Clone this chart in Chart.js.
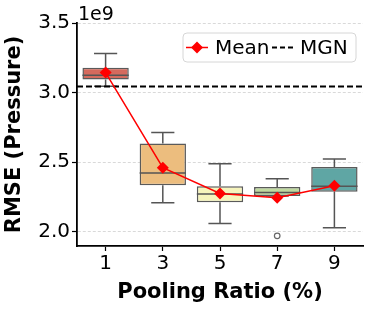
<!DOCTYPE html>
<html>
<head>
<meta charset="utf-8">
<script src="https://cdn.jsdelivr.net/npm/chart.js@4/dist/chart.umd.min.js"></script>
<style>
  html, body { margin: 0; padding: 0; background: #ffffff; }
  #wrap { width: 373px; height: 310px; position: relative; }
</style>
</head>
<body>
<div id="wrap"><canvas id="c" width="373" height="310"></canvas></div>
<script>
// ---- data (RMSE in units of 1e9) ----
const categories = ['1', '3', '5', '7', '9'];
const whiskerLow  = [3.045, 2.208, 2.059, 2.256, 2.028];
const q1          = [3.094, 2.333, 2.212, 2.256, 2.287];
const median      = [3.125, 2.421, 2.270, 2.282, 2.326];
const q3          = [3.178, 2.633, 2.326, 2.321, 2.465];
const whiskerHigh = [3.281, 2.712, 2.489, 2.380, 2.522];
const means       = [3.144, 2.460, 2.275, 2.244, 2.330];
const outlierCat  = [3];
const outlierVal  = [1.970];
const mgnValue    = 3.043;
const yTicks      = [2.0, 2.5, 3.0, 3.5];

const boxColors = ['#d56a5d', '#ecbd7e', '#f6f4bc', '#bfd99e', '#5fa6a4'];
const FONT = "'DejaVu Sans', sans-serif";

const boxPlugin = {
  id: 'boxParts',
  beforeDatasetsDraw(chart) {
    const {ctx, scales: {x, y}} = chart;
    const meta = chart.getDatasetMeta(1);
    ctx.save();
    ctx.strokeStyle = '#555555';
    ctx.lineWidth = 1.5;
    categories.forEach((c, i) => {
      const bar = meta.data[i];
      const half = bar ? bar.width / 4 : 12;
      const px = x.getPixelForValue(i);
      ctx.beginPath();
      ctx.moveTo(px, y.getPixelForValue(q1[i]));
      ctx.lineTo(px, y.getPixelForValue(whiskerLow[i]));
      ctx.moveTo(px, y.getPixelForValue(q3[i]));
      ctx.lineTo(px, y.getPixelForValue(whiskerHigh[i]));
      ctx.moveTo(px - half, y.getPixelForValue(whiskerLow[i]));
      ctx.lineTo(px + half, y.getPixelForValue(whiskerLow[i]));
      ctx.moveTo(px - half, y.getPixelForValue(whiskerHigh[i]));
      ctx.lineTo(px + half, y.getPixelForValue(whiskerHigh[i]));
      ctx.stroke();
    });
    ctx.restore();
  },
  afterDatasetDraw(chart, args) {
    if (args.index !== 1) return;
    const {ctx, scales: {x, y}} = chart;
    const meta = chart.getDatasetMeta(1);
    ctx.save();
    ctx.strokeStyle = '#555555';
    ctx.lineWidth = 1.5;
    categories.forEach((c, i) => {
      const bar = meta.data[i];
      const half = bar.width / 2;
      const px = x.getPixelForValue(i);
      const py = y.getPixelForValue(median[i]);
      ctx.beginPath();
      ctx.moveTo(px - half, py);
      ctx.lineTo(px + half, py);
      ctx.stroke();
    });
    ctx.restore();
  },
  afterDraw(chart) {
    const {ctx, chartArea} = chart;
    ctx.save();
    // offset text
    ctx.fillStyle = '#000';
    ctx.font = '19px ' + FONT;
    ctx.textAlign = 'left';
    ctx.textBaseline = 'alphabetic';
    ctx.fillText('1e9', chartArea.left + 1, 20);
    // legend
    const lx = 183, ly = 33, lw = 173, lh = 29;
    ctx.beginPath();
    ctx.roundRect(lx, ly, lw, lh, 4);
    ctx.fillStyle = 'rgba(255,255,255,0.85)';
    ctx.fill();
    ctx.strokeStyle = '#d6d6d6';
    ctx.lineWidth = 1;
    ctx.stroke();
    const cy = ly + lh / 2;
    const dsMean = chart.data.datasets[0];
    const dsMgn = chart.data.datasets[2];
    // mean handle
    ctx.strokeStyle = dsMean.borderColor;
    ctx.lineWidth = 1.5;
    ctx.beginPath();
    ctx.moveTo(186, cy); ctx.lineTo(208, cy); ctx.stroke();
    ctx.fillStyle = dsMean.borderColor;
    ctx.beginPath();
    const r = 6;
    ctx.moveTo(197, cy - r); ctx.lineTo(197 + r, cy); ctx.lineTo(197, cy + r); ctx.lineTo(197 - r, cy);
    ctx.closePath(); ctx.fill();
    ctx.fillStyle = '#000';
    ctx.font = '20px ' + FONT;
    ctx.textBaseline = 'middle';
    ctx.fillText(dsMean.label, 215, cy + 1);
    // mgn handle
    ctx.strokeStyle = '#000';
    ctx.lineWidth = 2;
    ctx.setLineDash([5, 3]);
    ctx.beginPath();
    ctx.moveTo(272, cy); ctx.lineTo(294, cy); ctx.stroke();
    ctx.setLineDash([]);
    ctx.fillText(dsMgn.label, 300, cy + 1);
    ctx.restore();
  }
};

new Chart(document.getElementById('c'), {
  data: {
    datasets: [
      {
        type: 'line',
        label: 'Mean',
        data: categories.map((c, i) => ({x: i, y: means[i]})),
        borderColor: '#ff0000',
        backgroundColor: '#ff0000',
        borderWidth: 1.5,
        pointStyle: 'rectRot',
        pointRadius: 6,
        pointBorderWidth: 0,
        tension: 0,
        order: 0
      },
      {
        type: 'bar',
        label: 'Boxes',
        data: categories.map((c, i) => ({x: i, y: [q1[i], q3[i]]})),
        backgroundColor: boxColors,
        borderColor: '#5a5a5a',
        borderWidth: 1.5,
        borderSkipped: false,
        barPercentage: 0.81,
        categoryPercentage: 1,
        order: 3
      },
      {
        type: 'line',
        label: 'MGN',
        data: [{x: -0.5, y: mgnValue}, {x: 4.5, y: mgnValue}],
        borderColor: '#000000',
        borderWidth: 2,
        borderDash: [6, 3],
        pointRadius: 0,
        order: 2
      },
      {
        type: 'scatter',
        label: 'Outliers',
        data: outlierCat.map((c, i) => ({x: c, y: outlierVal[i]})),
        borderColor: '#666666',
        backgroundColor: 'rgba(0,0,0,0)',
        borderWidth: 1.2,
        pointRadius: 2.8,
        order: 1
      }
    ]
  },
  options: {
    responsive: false,
    animation: false,
    devicePixelRatio: 1,
    layout: { padding: { top: 23, right: 10, left: 0, bottom: 0 } },
    plugins: { legend: { display: false }, tooltip: { enabled: false } },
    scales: {
      x: {
        type: 'linear',
        offset: false,
        min: -0.5,
        max: 4.5,
        afterBuildTicks: s => { s.ticks = categories.map((c, i) => ({value: i})); },
        afterFit: s => { s.height = 64; },
        ticks: {
          callback: v => categories[v],
          font: { family: FONT, size: 20 },
          color: '#000',
          padding: 1,
          maxRotation: 0
        },
        grid: { offset: false, drawOnChartArea: false, drawTicks: true, tickLength: 5, tickColor: '#000', tickWidth: 1.2 },
        border: { color: '#000', width: 1.8 },
        title: {
          display: true,
          text: 'Pooling Ratio (%)',
          font: { family: FONT, size: 21, weight: 'bold' },
          color: '#000',
          padding: { top: 0, bottom: 5 }
        }
      },
      y: {
        type: 'linear',
        min: 1.897,
        max: 3.5,
        afterBuildTicks: s => { s.ticks = yTicks.map(v => ({value: v})); },
        afterFit: s => { s.width = 77; },
        ticks: {
          callback: v => v.toFixed(1),
          font: { family: FONT, size: 20 },
          color: '#000',
          padding: 2
        },
        grid: { color: '#cfcfcf', lineWidth: 0.8, tickLength: 5, tickColor: '#000', tickWidth: 1.2 },
        border: { color: '#000', width: 1.8, dash: [3, 2] },
        title: {
          display: true,
          text: 'RMSE (Pressure)',
          font: { family: FONT, size: 21, weight: 'bold' },
          color: '#000',
          padding: { top: 2, bottom: 0 }
        }
      }
    }
  },
  plugins: [boxPlugin]
});
</script>
</body>
</html>
